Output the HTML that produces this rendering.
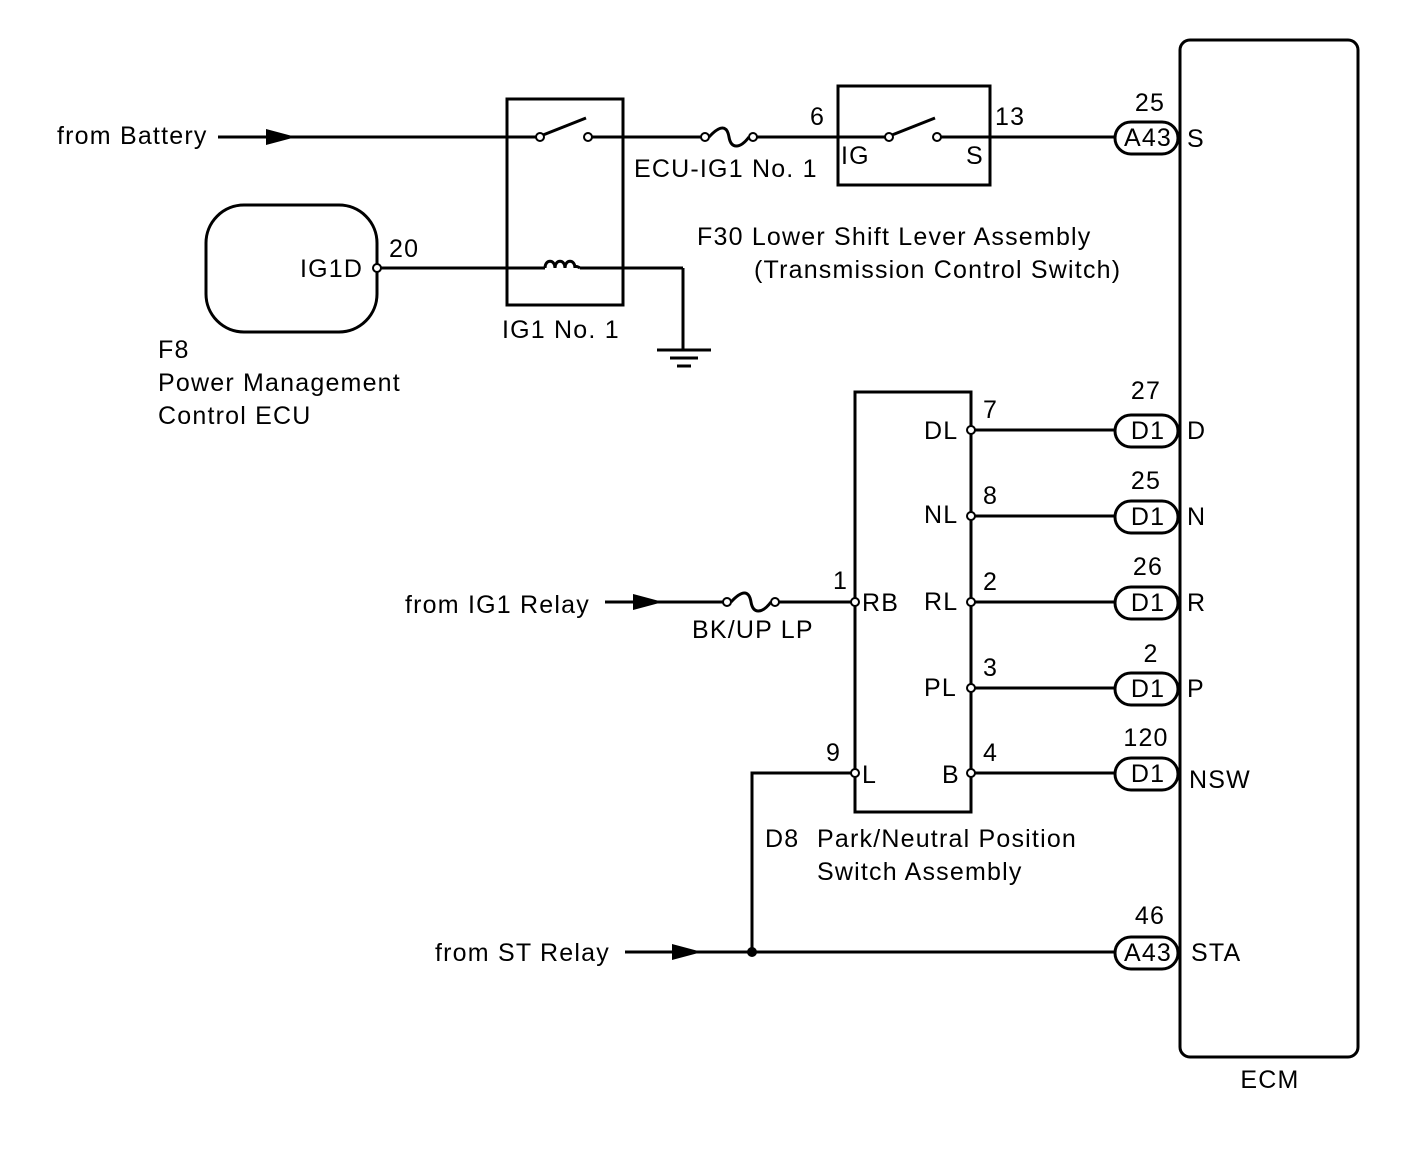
<!DOCTYPE html>
<html><head><style>
body{margin:0;background:#fff}
svg text{font-family:"Liberation Sans",sans-serif;font-size:25px;letter-spacing:1.2px;fill:#000}
</style></head><body>
<svg width="1424" height="1160" viewBox="0 0 1424 1160" xmlns="http://www.w3.org/2000/svg">
<g fill="none" stroke="#000" stroke-width="3">
<rect x="1180" y="40" width="178" height="1017" rx="10"/>
<line x1="218" y1="137" x2="540" y2="137"/>
<line x1="588" y1="137" x2="705" y2="137"/>
<line x1="753" y1="137" x2="889" y2="137"/>
<line x1="937" y1="137" x2="1115" y2="137"/>
<rect x="507" y="99" width="116" height="206"/>
<line x1="543" y1="135" x2="586" y2="118"/>
<path d="M709 137 C720 125,727 125,729 137 C731 149,740 149,749 137"/>
<rect x="838" y="86" width="152" height="99"/>
<line x1="892" y1="135" x2="935" y2="118"/>
<rect x="206" y="205" width="171" height="127" rx="38"/>
<line x1="381" y1="268" x2="545" y2="268"/>
<line x1="580" y1="268" x2="683" y2="268"/>
<line x1="683" y1="268" x2="683" y2="350"/>
<path d="M545 268 c0-9 10-9 10 0 c0-9 10-9 10 0 c0-9 10-9 10 0 c0 -2 2-2 5 0"/>
<line x1="657" y1="350" x2="711" y2="350"/>
<line x1="670" y1="358" x2="698" y2="358"/>
<line x1="677" y1="366" x2="691" y2="366"/>
<rect x="855" y="392" width="116" height="420"/>
<line x1="605" y1="602" x2="727" y2="602"/>
<line x1="775" y1="602" x2="851" y2="602"/>
<path d="M731 602 C742 590,749 590,751 602 C753 614,762 614,771 602"/>
<line x1="975" y1="430" x2="1115" y2="430"/>
<line x1="975" y1="516" x2="1115" y2="516"/>
<line x1="975" y1="602" x2="1115" y2="602"/>
<line x1="975" y1="688" x2="1115" y2="688"/>
<line x1="975" y1="773" x2="1115" y2="773"/>
<polyline points="851,773 752,773 752,952"/>
<line x1="625" y1="952" x2="1115" y2="952"/>
<rect x="1115" y="122" width="63" height="32" rx="16"/>
<rect x="1115" y="415" width="63" height="32" rx="16"/>
<rect x="1115" y="501" width="63" height="32" rx="16"/>
<rect x="1115" y="587" width="63" height="32" rx="16"/>
<rect x="1115" y="673" width="63" height="32" rx="16"/>
<rect x="1115" y="758" width="63" height="32" rx="16"/>
<rect x="1115" y="937" width="63" height="32" rx="16"/>
</g>
<g fill="#fff" stroke="#000" stroke-width="2">
<circle cx="540" cy="137" r="4"/><circle cx="588" cy="137" r="4"/>
<circle cx="705" cy="137" r="4"/><circle cx="753" cy="137" r="4"/>
<circle cx="889" cy="137" r="4"/><circle cx="937" cy="137" r="4"/>
<circle cx="377" cy="268" r="4"/>
<circle cx="727" cy="602" r="4"/><circle cx="775" cy="602" r="4"/>
<circle cx="855" cy="602" r="4"/><circle cx="855" cy="773" r="4"/>
<circle cx="971" cy="430" r="4"/><circle cx="971" cy="516" r="4"/><circle cx="971" cy="602" r="4"/><circle cx="971" cy="688" r="4"/><circle cx="971" cy="773" r="4"/>
</g>
<g fill="#000">
<polygon points="266,129 296,137 266,145"/>
<polygon points="633,594 663,602 633,610"/>
<polygon points="672,944 702,952 672,960"/>
<circle cx="752" cy="952" r="5"/>
</g>
<text x="57" y="144">from Battery</text>
<text x="634" y="177">ECU-IG1 No. 1</text>
<text x="810" y="125">6</text>
<text x="995" y="125">13</text>
<text x="841" y="164">IG</text>
<text x="966" y="164">S</text>
<text x="697" y="245">F30 Lower Shift Lever Assembly</text>
<text x="754" y="278">(Transmission Control Switch)</text>
<text x="300" y="277">IG1D</text>
<text x="389" y="257">20</text>
<text x="502" y="338">IG1 No. 1</text>
<text x="158" y="358">F8</text>
<text x="158" y="391">Power Management</text>
<text x="158" y="424">Control ECU</text>
<g text-anchor="middle">
<text x="1150" y="111">25</text><text x="1148" y="146">A43</text>
<text x="1146" y="399">27</text><text x="1148" y="439">D1</text>
<text x="1146" y="489">25</text><text x="1148" y="525">D1</text>
<text x="1148" y="575">26</text><text x="1148" y="611">D1</text>
<text x="1151" y="662">2</text><text x="1148" y="697">D1</text>
<text x="1146" y="746">120</text><text x="1148" y="782">D1</text>
<text x="1150" y="924">46</text><text x="1148" y="961">A43</text>
<text x="1270" y="1088">ECM</text>
</g>
<text x="1187" y="147">S</text>
<text x="1187" y="439">D</text>
<text x="1187" y="525">N</text>
<text x="1187" y="611">R</text>
<text x="1187" y="697">P</text>
<text x="1189" y="788">NSW</text>
<text x="1191" y="961">STA</text>
<text x="983" y="418">7</text>
<text x="983" y="504">8</text>
<text x="983" y="590">2</text>
<text x="983" y="676">3</text>
<text x="983" y="761">4</text>
<text x="924" y="439">DL</text>
<text x="924" y="523">NL</text>
<text x="924" y="610">RL</text>
<text x="924" y="696">PL</text>
<text x="942" y="783">B</text>
<text x="862" y="611">RB</text>
<text x="862" y="783">L</text>
<text x="833" y="589">1</text>
<text x="826" y="761">9</text>
<text x="405" y="613">from IG1 Relay</text>
<text x="692" y="638">BK/UP LP</text>
<text x="765" y="847">D8</text>
<text x="817" y="847">Park/Neutral Position</text>
<text x="817" y="880">Switch Assembly</text>
<text x="435" y="961">from ST Relay</text>
</svg>
</body></html>
